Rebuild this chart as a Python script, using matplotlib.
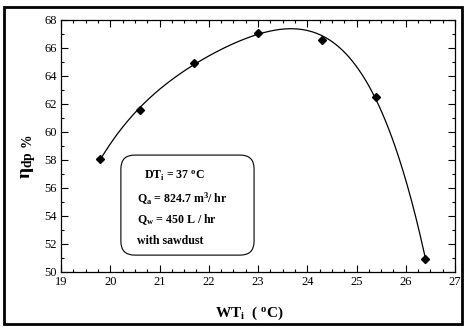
import numpy as np
import matplotlib
matplotlib.use('Agg')
import matplotlib.pyplot as plt
from matplotlib.patches import FancyBboxPatch, Rectangle
from matplotlib.ticker import MultipleLocator

'efficiency vs inlet water temperature'

wt_in = [19.8, 20.6, 21.7, 23.0, 24.3, 25.4, 26.4]
eff_dp = [58.1, 61.6, 64.9, 67.1, 66.6, 62.5, 50.9]
box_lines = [r'$\mathbf{DT_i}$ = 37 $^\mathbf{o}$C',
             r'$\mathbf{Q_a}$ = 824.7 m$^\mathbf{3}$/ hr',
             r'$\mathbf{Q_w}$ = 450 L / hr',
             'with sawdust']

plt.rcParams['font.family'] = ['Liberation Serif', 'DejaVu Serif']
plt.rcParams['mathtext.fontset'] = 'custom'
plt.rcParams['mathtext.rm'] = 'Liberation Serif:bold'
plt.rcParams['mathtext.it'] = 'Liberation Serif:bold'
plt.rcParams['mathtext.bf'] = 'Liberation Serif:bold'

fig = plt.figure(figsize=(4.65, 3.27), dpi=100)
ax = fig.add_axes([61 / 465, 55 / 327, 394 / 465, 252 / 327])

# smooth trend line: polynomial fit of the measured points
coef = np.polyfit(wt_in, eff_dp, 4)
xs = np.linspace(wt_in[0], wt_in[-1], 300)
ax.plot(xs, np.polyval(coef, xs), color='black', lw=0.9)
ax.plot(wt_in, eff_dp, 'D', color='black', ms=3.8)

ax.set_xlim(19, 27)
ax.set_ylim(50, 68)
ax.xaxis.set_major_locator(MultipleLocator(1))
ax.xaxis.set_minor_locator(MultipleLocator(0.25))
ax.yaxis.set_major_locator(MultipleLocator(2))
ax.yaxis.set_minor_locator(MultipleLocator(1))
ax.tick_params(which='both', direction='in', top=True, right=True, labelsize=9, width=0.8, pad=3)
ax.tick_params(which='major', length=5)
ax.tick_params(which='minor', length=2.5)
for s in ax.spines.values():
    s.set_linewidth(0.9)

box = FancyBboxPatch((0.152, 0.067), 0.338, 0.397, boxstyle='round,pad=0,rounding_size=0.035',
                     mutation_aspect=394 / 252, transform=ax.transAxes,
                     facecolor='white', edgecolor='black', lw=0.8)
ax.add_patch(box)
ax.text(0.289, 0.381, box_lines[0], transform=ax.transAxes, ha='center', va='center',
        fontsize=8.6, fontweight='bold')
ax.text(0.193, 0.29, box_lines[1], transform=ax.transAxes, ha='left', va='center',
        fontsize=8.6, fontweight='bold')
ax.text(0.193, 0.206, box_lines[2], transform=ax.transAxes, ha='left', va='center',
        fontsize=8.6, fontweight='bold')
ax.text(0.193, 0.123, box_lines[3], transform=ax.transAxes, ha='left', va='center',
        fontsize=8.6, fontweight='bold')

fig.text(249 / 465, 1 - 313 / 327, r'$\mathbf{WT_i}$  ( $^\mathbf{o}$C)', ha='center', va='center',
         fontsize=11, fontweight='bold')
fig.text(29 / 465, 1 - 157 / 327, r'$\mathbf{\eta_{dp\ \%}}$', ha='center', va='center',
         rotation=90, fontsize=14, fontweight='bold')

fig.patches.append(Rectangle((4 / 465, 3 / 327), 458 / 465, 317 / 327, transform=fig.transFigure,
                             fill=False, edgecolor='black', lw=2))

plt.savefig('out.png', dpi=100)
plt.close()
